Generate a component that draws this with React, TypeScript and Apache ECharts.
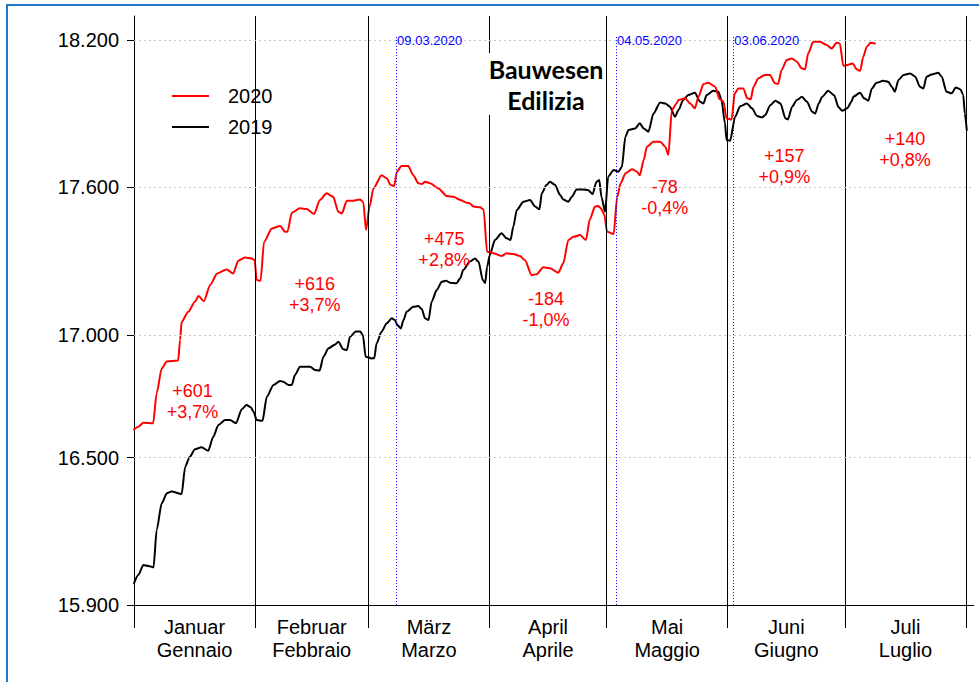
import React, { useEffect, useRef } from 'react';
import * as echarts from 'echarts';

// ---- data ----
const monthStarts = [0, 31, 60, 91, 121, 152, 182, 213];
const monthLabels = [
  'Januar\nGennaio',
  'Februar\nFebbraio',
  'März\nMarzo',
  'April\nAprile',
  'Mai\nMaggio',
  'Juni\nGiugno',
  'Juli\nLuglio',
];
const yTicks = [15900, 16500, 17000, 17600, 18200];
const gridValues = [16500, 17000, 17600, 18200];
const eventDays = [67.1, 123.4, 153.4];
const eventLabels = ['09.03.2020', '04.05.2020', '03.06.2020'];
const diffLabels = [
  '+601\n+3,7%',
  '+616\n+3,7%',
  '+475\n+2,8%',
  '-184\n-1,0%',
  '-78\n-0,4%',
  '+157\n+0,9%',
  '+140\n+0,8%',
];
const diffAnchors = [
  [15.0, 16728],
  [46.3, 17166],
  [79.4, 17347],
  [105.5, 17103],
  [135.9, 17559],
  [166.5, 17685],
  [197.4, 17754],
];

const series2020 = [
  [0, 16615], [1.1, 16626], [2.4, 16642], [4.9, 16640], [5.8, 16762], [7.1, 16863], [8.4, 16891],
  [11.3, 16895], [11.8, 16979], [12.2, 17053], [13.9, 17094], [15.6, 17135], [16.5, 17158],
  [17.9, 17137], [19.5, 17203], [21.3, 17250], [23.7, 17266], [25.4, 17250], [26.7, 17302],
  [28.4, 17315], [30.1, 17311], [30.9, 17304], [31.4, 17223], [32.4, 17220], [33.3, 17379],
  [35.3, 17433], [37.4, 17443], [38.7, 17420], [39.3, 17420], [40.4, 17497], [42.5, 17515],
  [44.2, 17512], [46.1, 17492], [47.6, 17549], [49.3, 17576], [51.0, 17562], [52.3, 17501],
  [53.2, 17494], [54.5, 17546], [56.2, 17546], [57.9, 17551], [58.7, 17540], [59.4, 17427],
  [60.3, 17522], [61.3, 17596], [63.4, 17650], [64.7, 17637], [65.7, 17610], [66.6, 17606],
  [67.3, 17664], [68.5, 17687], [70.2, 17687], [71.5, 17650], [72.8, 17617], [73.7, 17614],
  [74.5, 17623], [75.8, 17617], [77.9, 17596], [80.1, 17565], [81.8, 17562], [83.5, 17549],
  [85.2, 17538], [86.0, 17535], [86.9, 17522], [88.6, 17519], [89.5, 17510], [90.4, 17338],
  [92.0, 17332], [94.1, 17321], [95.4, 17332], [97.1, 17329], [98.8, 17321], [100.1, 17304],
  [101.8, 17243], [103.1, 17247], [104.8, 17275], [106.5, 17271], [108.6, 17253], [109.9, 17291],
  [111.2, 17386], [112.5, 17399], [114.2, 17406], [115.7, 17386], [116.7, 17470], [118.0, 17522],
  [118.9, 17524], [119.5, 17515], [120.4, 17490], [121.1, 17420], [122.8, 17410], [123.7, 17562],
  [124.6, 17617], [125.8, 17657], [127.5, 17674], [128.8, 17664], [129.5, 17650], [130.5, 17712],
  [131.3, 17766], [133.0, 17786], [134.7, 17786], [136.0, 17766], [136.8, 17732], [137.7, 17915],
  [138.9, 17942], [139.4, 17956], [141.1, 17963], [142.4, 17942], [143.6, 17922], [144.5, 17969],
  [145.8, 18021], [147.0, 18026], [148.8, 18010], [149.9, 17960], [150.9, 17950], [151.7, 17881],
  [153.0, 17877], [153.8, 17983], [154.7, 18003], [156.0, 18003], [157.0, 17963], [157.9, 17959],
  [158.6, 18010], [159.8, 18044], [161.5, 18058], [162.8, 18058], [164.1, 18024], [164.9, 18021],
  [165.8, 18078], [167.1, 18119], [168.4, 18125], [169.7, 18112], [170.9, 18085], [171.8, 18081],
  [172.6, 18146], [173.9, 18193], [175.6, 18193], [177.3, 18180], [178.6, 18166], [179.9, 18189],
  [180.7, 18186], [181.6, 18095], [182.9, 18100], [184.0, 18105], [185.0, 18081], [185.9, 18075],
  [186.7, 18132], [187.6, 18173], [188.6, 18189], [189.7, 18186],
];

const series2019 = [
  [0, 15988], [1.1, 16022], [2.4, 16063], [3.7, 16059], [5.0, 16053], [5.8, 16205], [7.1, 16314],
  [8.4, 16355], [9.6, 16362], [12.2, 16352], [13.1, 16463], [14.3, 16504], [15.6, 16534],
  [17.3, 16542], [19.0, 16528], [20.3, 16585], [21.6, 16633], [23.3, 16653], [24.6, 16653],
  [26.1, 16640], [27.6, 16697], [28.8, 16714], [29.9, 16705], [30.6, 16687], [31.4, 16653],
  [32.9, 16650], [34.0, 16748], [35.7, 16796], [37.4, 16812], [38.2, 16809], [39.5, 16796],
  [40.4, 16796], [41.2, 16836], [42.5, 16870], [45.1, 16870], [46.3, 16857], [47.5, 16854],
  [48.5, 16911], [49.8, 16945], [51.5, 16961], [52.3, 16972], [53.6, 16941], [54.5, 16938],
  [55.3, 16992], [56.8, 17013], [57.9, 17013], [58.6, 16999], [59.3, 16911], [60.8, 16904],
  [61.5, 16905], [62.1, 16965], [63.4, 17013], [64.7, 17047], [66.0, 17067], [66.8, 17060],
  [67.4, 17040], [68.3, 17026], [69.0, 17060], [69.8, 17094], [71.5, 17114], [72.8, 17117],
  [73.7, 17104], [74.5, 17067], [75.4, 17060], [76.2, 17135], [77.5, 17182], [78.8, 17216],
  [79.9, 17220], [80.9, 17212], [82.6, 17210], [83.5, 17230], [84.3, 17264], [86.0, 17298],
  [87.3, 17311], [88.2, 17298], [89.3, 17223], [89.9, 17210], [90.4, 17277], [91.1, 17325],
  [92.4, 17386], [94.1, 17413], [95.4, 17393], [96.4, 17386], [97.1, 17440], [98.0, 17508],
  [99.7, 17542], [101.4, 17549], [102.7, 17522], [103.8, 17511], [104.4, 17576], [105.6, 17610],
  [106.5, 17623], [107.8, 17610], [109.1, 17569], [109.9, 17551], [111.2, 17542], [112.1, 17562],
  [113.3, 17592], [115.0, 17592], [116.3, 17589], [117.4, 17573], [118.4, 17623], [119.1, 17630],
  [119.7, 17560], [120.6, 17501], [121.4, 17644], [122.8, 17671], [124.0, 17664], [124.9, 17684],
  [125.8, 17806], [126.6, 17834], [128.3, 17840], [129.5, 17861], [130.5, 17840], [131.7, 17827],
  [133.0, 17901], [134.7, 17946], [136.0, 17942], [137.2, 17929], [138.5, 17888], [139.4, 17915],
  [140.6, 17956], [141.9, 17976], [143.6, 17986], [144.9, 17949], [145.8, 17942], [146.6, 17976],
  [148.3, 17994], [149.6, 17990], [150.4, 17956], [151.3, 17861], [151.7, 17793], [152.6, 17790],
  [153.9, 17888], [155.2, 17931], [156.9, 17942], [158.2, 17922], [159.5, 17891], [160.8, 17885],
  [161.6, 17895], [162.9, 17935], [164.2, 17953], [165.5, 17942], [166.8, 17881], [167.4, 17877],
  [168.5, 17929], [169.7, 17956], [171.0, 17969], [172.3, 17949], [173.6, 17908], [174.4, 17901],
  [175.3, 17942], [176.2, 17969], [177.7, 17994], [179.2, 17976], [180.4, 17926], [181.3, 17912],
  [182.6, 17922], [183.7, 17950], [184.2, 17970], [185.9, 17986], [186.9, 17963], [188.0, 17953],
  [188.9, 18003], [190.1, 18026], [191.8, 18034], [193.1, 18030], [194.0, 18010], [194.8, 17990],
  [195.7, 18037], [197.0, 18058], [198.7, 18064], [200.0, 18051], [201.2, 18010], [202.1, 18003],
  [202.9, 18051], [204.2, 18060], [205.9, 18067], [206.8, 18051], [208.0, 17990], [209.3, 17983],
  [210.4, 18007], [211.6, 17999], [212.3, 17976], [212.7, 17901], [213.2, 17834],
];

const FONT = "'Liberation Sans', Arial, sans-serif";

function formatThousands(v: number): string {
  return String(Math.round(v)).replace(/\B(?=(\d{3})+(?!\d))/g, '.');
}

export default function App() {
  const ref = useRef<HTMLDivElement>(null);

  useEffect(() => {
    if (!ref.current) return;
    const chart = echarts.init(ref.current, undefined, { renderer: 'svg' });

    const monthMids = monthStarts.slice(0, -1).map((s, i) => (s + monthStarts[i + 1]) / 2);

    const markLineData: any[] = [];
    monthStarts.slice(1).forEach((d) => {
      markLineData.push({ xAxis: d, lineStyle: { color: '#000', width: 1, type: 'solid' } });
    });
    gridValues.forEach((v) => {
      markLineData.push({ yAxis: v, lineStyle: { color: '#c8c8c8', width: 1, type: [2, 3] } });
    });
    eventDays.forEach((d) => {
      markLineData.push([
        { coord: [d, 18212], lineStyle: { color: '#0000ff', width: 1, type: [1, 2] } },
        { coord: [d, 15900] },
      ]);
    });

    const markPointData: any[] = [];
    eventDays.forEach((d, i) => {
      markPointData.push({
        coord: [d, 18200],
        label: {
          show: true,
          formatter: eventLabels[i],
          position: 'right',
          distance: 1,
          color: '#0000ff',
          fontSize: 13,
          fontFamily: FONT,
        },
      });
    });
    diffAnchors.forEach((c, i) => {
      markPointData.push({
        coord: c,
        label: {
          show: true,
          formatter: diffLabels[i],
          position: 'inside',
          align: 'center',
          verticalAlign: 'middle',
          color: '#ff0000',
          fontSize: 18,
          lineHeight: 21,
          fontFamily: FONT,
        },
      });
    });

    chart.setOption({
      animation: false,
      backgroundColor: '#fff',
      title: {
        text: 'Bauwesen\nEdilizia',
        left: 544,
        top: 53,
        textAlign: 'center',
        backgroundColor: '#fff',
        padding: [0, 2],
        textStyle: {
          fontFamily: 'Lato, sans-serif',
          fontWeight: 'bold',
          fontSize: 25,
          lineHeight: 31,
          color: '#000',
        },
      },
      legend: {
        data: ['2020', '2019'],
        orient: 'vertical',
        left: 150,
        top: 66,
        padding: [20, 18, 18, 22],
        itemGap: 11,
        itemWidth: 37,
        itemHeight: 2,
        icon: 'rect',
        backgroundColor: '#fff',
        textStyle: { fontSize: 20, color: '#000', fontFamily: FONT, padding: [0, 0, 0, 14] },
      },
      grid: { left: 134, right: 5.2, top: 16, bottom: 77, containLabel: false },
      xAxis: {
        type: 'value',
        min: 0,
        max: 215,
        axisLine: { show: true, onZero: false, lineStyle: { color: '#000', width: 1 } },
        axisTick: { show: true, customValues: monthStarts, length: 23, lineStyle: { color: '#000', width: 1 } },
        axisLabel: {
          show: true,
          customValues: monthMids,
          formatter: (v: number) => {
            let best = 0;
            let bd = Infinity;
            monthMids.forEach((m, i) => {
              const dd = Math.abs(m - v);
              if (dd < bd) { bd = dd; best = i; }
            });
            return monthLabels[best];
          },
          fontSize: 20,
          lineHeight: 23,
          color: '#000',
          fontFamily: FONT,
          margin: 10,
        },
        splitLine: { show: false },
      },
      yAxis: {
        type: 'value',
        min: 15900,
        max: 18298,
        axisLine: { show: true, lineStyle: { color: '#000', width: 1 } },
        axisTick: { show: true, customValues: yTicks, length: 7, lineStyle: { color: '#000', width: 1 } },
        axisLabel: {
          show: true,
          customValues: yTicks,
          formatter: (v: number) => formatThousands(v),
          fontSize: 20,
          color: '#000',
          fontFamily: FONT,
          margin: 15,
        },
        splitLine: { show: false },
      },
      graphic: [
        {
          type: 'rect',
          silent: true,
          z: 100,
          shape: { x: 7, y: 5, width: 1100, height: 700 },
          style: { fill: 'none', stroke: '#1f78c8', lineWidth: 2 },
        },
      ],
      series: [
        {
          name: 'helper',
          type: 'line',
          data: [],
          z: 1,
          silent: true,
          markLine: {
            silent: true,
            symbol: ['none', 'none'],
            label: { show: false },
            data: markLineData,
          },
          markPoint: {
            silent: true,
            symbol: 'circle',
            symbolSize: 0,
            itemStyle: { color: 'transparent' },
            data: markPointData,
          },
        },
        {
          name: '2019',
          type: 'line',
          data: series2019,
          showSymbol: false,
          smooth: 0.25,
          smoothMonotone: 'x',
          z: 3,
          color: '#000000',
          lineStyle: { color: '#000000', width: 2, join: 'round', cap: 'round' },
        },
        {
          name: '2020',
          type: 'line',
          data: series2020,
          showSymbol: false,
          smooth: 0.25,
          smoothMonotone: 'x',
          z: 4,
          color: '#ff0000',
          lineStyle: { color: '#ff0000', width: 2, join: 'round', cap: 'round' },
        },
      ],
    });

    return () => chart.dispose();
  }, []);

  return (
    <div
      ref={ref}
      style={{ position: 'absolute', left: 0, top: 0, width: 979, height: 682 }}
    />
  );
}
